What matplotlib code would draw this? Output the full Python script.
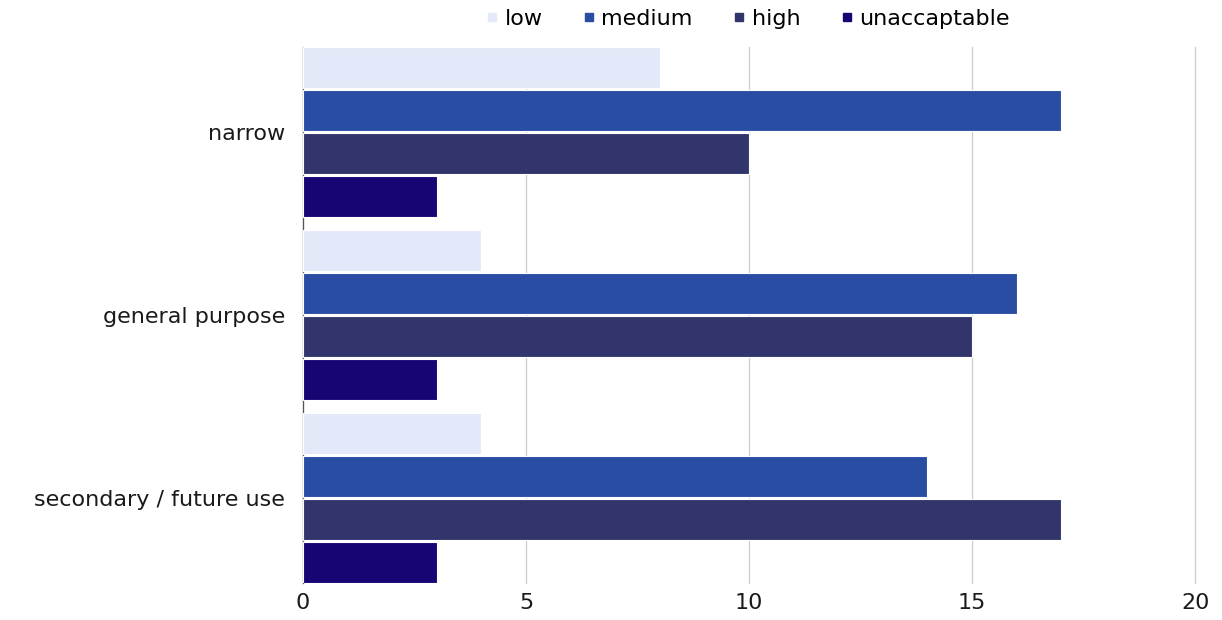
import matplotlib
matplotlib.use("Agg")
import matplotlib.pyplot as plt
from matplotlib.lines import Line2D
import numpy as np

categories = ["narrow", "general purpose", "secondary / future use"]
series_names = ["low", "medium", "high", "unaccaptable"]
low = [8, 4, 4]
medium = [17, 16, 14]
high = [10, 15, 17]
unaccaptable = [3, 3, 3]
x_ticks = [0, 5, 10, 15, 20]

colors = ["#E3E9F8", "#2A4DA4", "#32356C", "#170573"]

plt.rcParams["font.family"] = ["DejaVu Sans"]

fig = plt.figure(figsize=(12.22, 6.2), dpi=100)
ax = fig.add_axes([0.248, 0.0597, 0.978 - 0.248, 0.924 - 0.0597])

pitch = 0.235
height = 0.224
y = np.arange(len(categories))
values = [low, medium, high, unaccaptable]
for i, (vals, c) in enumerate(zip(values, colors)):
    off = (i - 1.5) * pitch
    ax.barh(y + off, vals, height=height, color=c, edgecolor="white",
            linewidth=0.8, zorder=3)

ax.set_xlim(0, 20)
ax.set_ylim(2.467, -0.464)
ax.set_xticks(x_ticks)
ax.set_xticklabels([str(t) for t in x_ticks])
ax.set_yticks(y)
ax.set_yticklabels(categories)
ax.tick_params(axis="both", length=0, labelsize=16, colors="#1a1a1a")
ax.tick_params(axis="y", pad=13)
ax.tick_params(axis="x", pad=7)
ax.grid(axis="x", color="#cccccc", linewidth=0.9, zorder=0)
for gl in ax.get_xgridlines():
    gl.set_clip_on(False)
for s in ["top", "right", "bottom"]:
    ax.spines[s].set_visible(False)
ax.spines["left"].set_color("#555555")
ax.spines["left"].set_linewidth(0.9)
ax.spines["left"].set_zorder(2)

handles = [Line2D([], [], marker="s", linestyle="none", markersize=6,
                  markerfacecolor=c, markeredgecolor=c) for c in colors]
fig.legend(handles, series_names, loc="center", bbox_to_anchor=(0.61, 0.97),
           ncol=4, frameon=False, fontsize=16, handletextpad=0.05,
           columnspacing=1.6, handlelength=1.0)

fig.savefig("out.png", dpi=100)
